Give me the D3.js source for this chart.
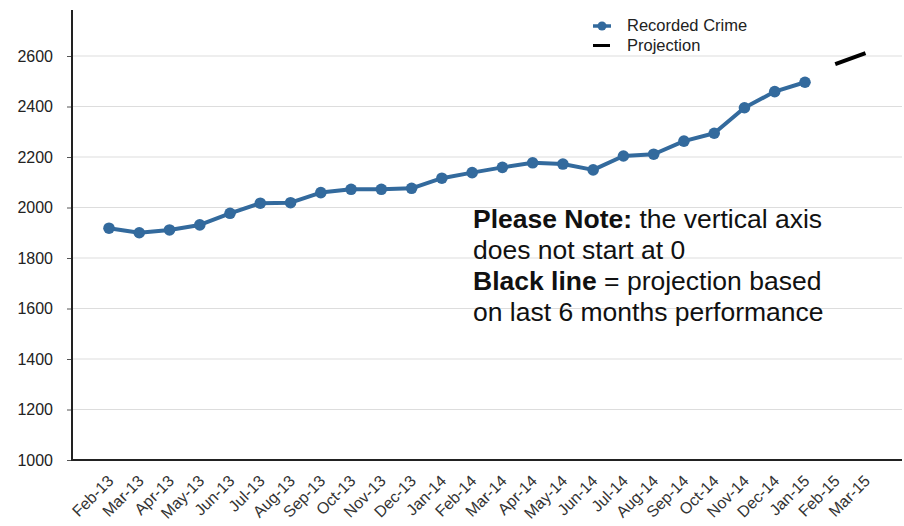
<!DOCTYPE html>
<html>
<head>
<meta charset="utf-8">
<script src="https://cdn.jsdelivr.net/npm/d3@7"></script>
<style>
  html, body { margin: 0; padding: 0; background: #fff; }
  svg { display: block; font-family: "Liberation Sans", Arial, sans-serif; }
</style>
</head>
<body>
<svg id="chart" width="904" height="526"></svg>
<script>
const months = ["Feb-13","Mar-13","Apr-13","May-13","Jun-13","Jul-13","Aug-13","Sep-13","Oct-13","Nov-13","Dec-13","Jan-14",
  "Feb-14","Mar-14","Apr-14","May-14","Jun-14","Jul-14","Aug-14","Sep-14","Oct-14","Nov-14","Dec-14","Jan-15","Feb-15","Mar-15"];
const recordedMonths = months.slice(0, 24);
const recordedCrime = [1918,1900,1911,1931,1977,2017,2019,2059,2072,2072,2076,2116,
  2138,2159,2177,2172,2149,2204,2211,2263,2294,2395,2459,2496];
const projectionMonths = ["Feb-15","Mar-15"];
const projection = [2568,2611];
const yTicks = [1000,1200,1400,1600,1800,2000,2200,2400,2600];

(function () {
const svg = d3.select("#chart");
const mLeft = 72, mRight = 902, mBottom = 460, mTop = 10;

const x = d3.scalePoint().domain(months).range([109, 865.5]);
const y = d3.scaleLinear().domain([1000, 2600]).range([mBottom, 56]);

// gridlines
svg.append("g").selectAll("line").data(yTicks.filter(d => d > 1000)).join("line")
  .attr("x1", mLeft).attr("x2", mRight)
  .attr("y1", d => y(d)).attr("y2", d => y(d))
  .attr("stroke", "#dddddd").attr("stroke-width", 1.2);

// y axis
const yAxis = svg.append("g").attr("transform", `translate(${mLeft},0)`)
  .call(d3.axisLeft(y).tickValues(yTicks).tickSize(5).tickPadding(14).tickFormat(d3.format("d")));
yAxis.select(".domain").remove();
yAxis.selectAll(".tick line").attr("stroke", "#555");
yAxis.selectAll(".tick text").attr("font-size", 16).attr("fill", "#222")
  .attr("font-family", "'Liberation Sans', Arial, sans-serif");
svg.append("line").attr("x1", mLeft).attr("x2", mLeft).attr("y1", mTop).attr("y2", mBottom + 1)
  .attr("stroke", "#222").attr("stroke-width", 2);

// x axis
const xAxis = svg.append("g").attr("transform", `translate(0,${mBottom})`)
  .call(d3.axisBottom(x).tickSize(0).tickPadding(0));
xAxis.select(".domain").remove();
xAxis.selectAll(".tick text")
  .attr("font-size", 16).attr("fill", "#333")
  .attr("font-family", "'Liberation Sans', Arial, sans-serif")
  .attr("text-anchor", "end")
  .attr("dy", null).attr("y", 0)
  .attr("transform", "translate(5,22) rotate(-45)");
svg.append("line").attr("x1", mLeft - 1).attr("x2", mRight).attr("y1", mBottom).attr("y2", mBottom)
  .attr("stroke", "#222").attr("stroke-width", 2);

// recorded crime series
const color = "#336a9d";
const line = d3.line().x((d, i) => x(recordedMonths[i])).y(d => y(d));
svg.append("path").datum(recordedCrime).attr("d", line)
  .attr("fill", "none").attr("stroke", color).attr("stroke-width", 4).attr("stroke-linejoin", "round");
svg.append("g").selectAll("circle").data(recordedCrime).join("circle")
  .attr("cx", (d, i) => x(recordedMonths[i])).attr("cy", d => y(d)).attr("r", 5.8).attr("fill", color);

// projection
const pline = d3.line().x((d, i) => x(projectionMonths[i])).y(d => y(d));
svg.append("path").datum(projection).attr("d", pline)
  .attr("fill", "none").attr("stroke", "#000").attr("stroke-width", 4);

// legend
const lg = svg.append("g");
lg.append("line").attr("x1", 593).attr("x2", 611).attr("y1", 26).attr("y2", 26)
  .attr("stroke", color).attr("stroke-width", 3.5);
lg.append("circle").attr("cx", 602).attr("cy", 26).attr("r", 4.5).attr("fill", color);
lg.append("text").attr("x", 627).attr("y", 31).attr("font-size", 16.5).attr("fill", "#222").text("Recorded Crime");
lg.append("line").attr("x1", 593).attr("x2", 610).attr("y1", 45.5).attr("y2", 45.5)
  .attr("stroke", "#000").attr("stroke-width", 3);
lg.append("text").attr("x", 627).attr("y", 51).attr("font-size", 16.5).attr("fill", "#222").text("Projection");

// annotation
const note = svg.append("g").attr("font-size", 26.5).attr("fill", "#111");
const noteLines = [
  [["Please Note:", true], [" the vertical axis", false]],
  [["does not start at 0", false]],
  [["Black line", true], [" = projection based", false]],
  [["on last 6 months performance", false]]
];
noteLines.forEach((parts, i) => {
  const t = note.append("text").attr("x", 473).attr("y", 228 + i * 31);
  parts.forEach(([s, b]) => t.append("tspan").attr("font-weight", b ? "bold" : "normal").text(s));
});
})();
</script>
</body>
</html>
